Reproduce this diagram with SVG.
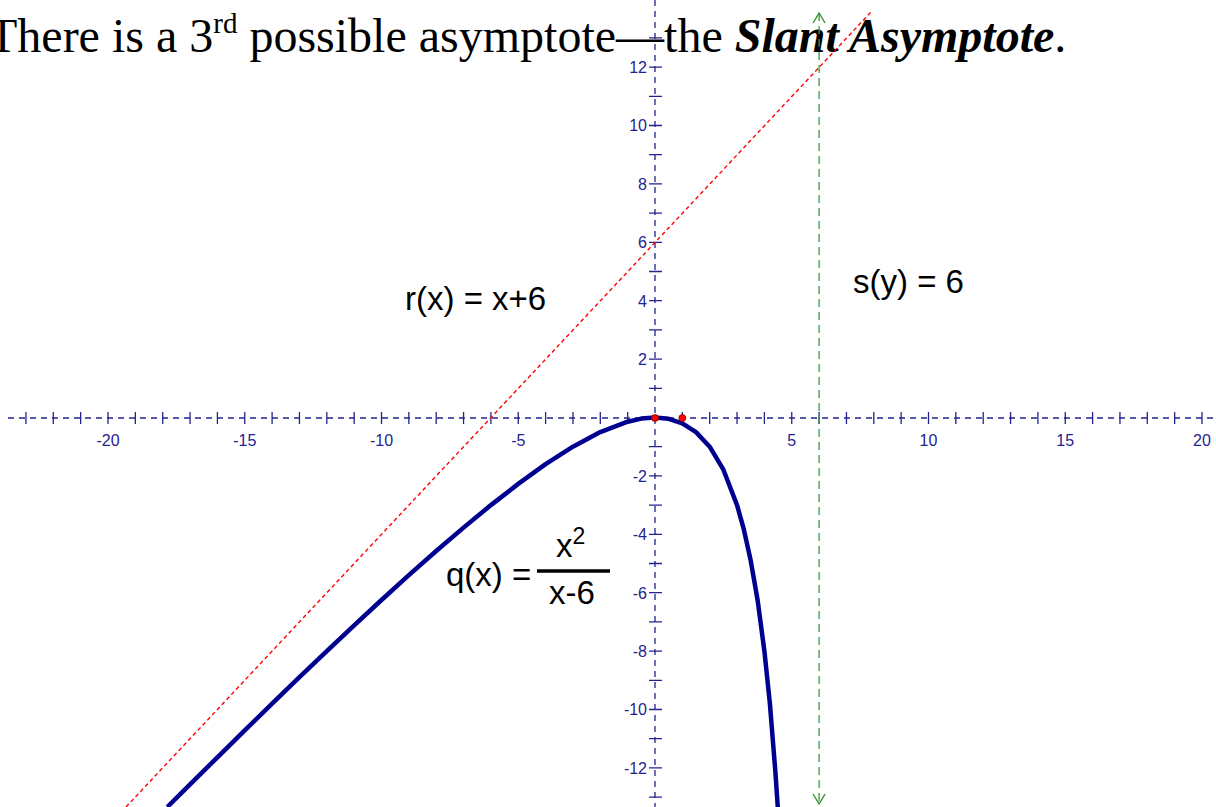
<svg xmlns="http://www.w3.org/2000/svg" width="1216" height="807" viewBox="0 0 1216 807">
<style>
.ax{stroke:#23238f;stroke-width:1.3;fill:none}
.axd{stroke:#23238f;stroke-width:1.3;fill:none;stroke-dasharray:6 5}
.lbl{font-family:"Liberation Sans",Arial,sans-serif;font-size:16px;fill:#23238f}
.xl{text-anchor:middle}
.yl{text-anchor:end}
.eq{font-family:"Liberation Sans",Arial,sans-serif;font-size:33px;fill:#000}
</style>
<defs>
<marker id="arr" viewBox="0 0 12 14" refX="11" refY="7" markerWidth="12" markerHeight="14" orient="auto-start-reverse" markerUnits="userSpaceOnUse">
<path d="M1,1 L11,7 L1,13" fill="none" stroke="#2a8f2a" stroke-width="1.3"/>
</marker>
</defs>
<rect width="1216" height="807" fill="#fff"/>
<g id="title">
<text x="-12" y="52" font-family="'Liberation Serif','Times New Roman',serif" font-size="48" fill="#000">There is a 3<tspan font-size="29" dy="-19">rd</tspan><tspan dy="19"> possible asymptote—the </tspan><tspan font-weight="bold" font-style="italic">Slant Asymptote</tspan>.</text>
</g>
<g id="axes">
<line class="axd" x1="8" y1="418" x2="1216" y2="418"/>
<line class="axd" x1="655" y1="0" x2="655" y2="807"/>
<path class="ax" d="M25.95,412v12M53.3,412v12M80.65,412v12M108,412v12M135.35,412v12M162.7,412v12M190.05,412v12M217.4,412v12M244.75,412v12M272.1,412v12M299.45,412v12M326.8,412v12M354.15,412v12M381.5,412v12M408.85,412v12M436.2,412v12M463.55,412v12M490.9,412v12M518.25,412v12M545.6,412v12M572.95,412v12M600.3,412v12M627.65,412v12M682.35,412v12M709.7,412v12M737.05,412v12M764.4,412v12M791.75,412v12M819.1,412v12M846.45,412v12M873.8,412v12M901.15,412v12M928.5,412v12M955.85,412v12M983.2,412v12M1010.55,412v12M1037.9,412v12M1065.25,412v12M1092.6,412v12M1119.95,412v12M1147.3,412v12M1174.65,412v12M1202,412v12"/>
<path class="ax" d="M649,37.9h13M649,67.1h13M649,96.3h13M649,125.5h13M649,154.7h13M649,183.9h13M649,213.1h13M649,242.3h13M649,271.5h13M649,300.7h13M649,329.9h13M649,359.1h13M649,388.3h13M649,446.7h13M649,475.9h13M649,505.1h13M649,534.3h13M649,563.5h13M649,592.7h13M649,621.9h13M649,651.1h13M649,680.3h13M649,709.5h13M649,738.7h13M649,767.9h13M649,797.1h13"/>
<g class="lbl xl">
<text x="108" y="446">-20</text>
<text x="244.75" y="446">-15</text>
<text x="381.5" y="446">-10</text>
<text x="518.25" y="446">-5</text>
<text x="791.75" y="446">5</text>
<text x="928.5" y="446">10</text>
<text x="1065.25" y="446">15</text>
<text x="1202" y="446">20</text>
</g>
<g class="lbl yl">
<text x="647" y="73">12</text>
<text x="647" y="131.4">10</text>
<text x="647" y="189.8">8</text>
<text x="647" y="248.2">6</text>
<text x="647" y="306.6">4</text>
<text x="647" y="365">2</text>
<text x="647" y="481.8">-2</text>
<text x="647" y="540.2">-4</text>
<text x="647" y="598.6">-6</text>
<text x="647" y="657">-8</text>
<text x="647" y="715.4">-10</text>
<text x="647" y="773.8">-12</text>
</g>
</g>
<g id="connectors">
<line id="slant" x1="126" y1="807" x2="871" y2="12" stroke="#ff0000" stroke-width="1.4" stroke-dasharray="4 3"/>
<line id="vertical" x1="819.1" y1="13" x2="819.1" y2="804" stroke="#3a9a3a" stroke-width="1.3" stroke-dasharray="8 5" marker-start="url(#arr)" marker-end="url(#arr)"/>
<polyline id="curve" fill="none" stroke="#000090" stroke-width="4.5" stroke-linejoin="round" points="167.3,807 190.05,784.4 217.4,757.3 244.75,730.4 272.1,703.7 299.45,677.2 326.8,651.1 354.15,625.3 381.5,600 408.85,575.2 436.2,551 463.55,527.6 490.9,505.1 518.25,483.9 545.6,464.2 572.95,446.7 600.3,432.1 627.65,421.7 641.3,418.6 655,417.5 668.7,418.8 682.35,423.3 696,432.1 709.7,446.7 723.4,469.7 737.05,505.1 743.9,529.7 750.7,560.6 757.6,600 764.4,651.1 769.9,703.7 775.3,770.8 777.8,807.4"/>
</g>
<g id="points">
<circle cx="655" cy="418" r="3.5" fill="#ff0000" stroke="#800000" stroke-width="0.8"/>
<circle cx="682.35" cy="418" r="3.5" fill="#ff0000" stroke="#800000" stroke-width="0.8"/>
</g>
<g id="label-r"><text class="eq" x="405" y="310">r(x) = x+6</text></g>
<g id="label-s"><text class="eq" x="853" y="293">s(y) = 6</text></g>
<g id="label-q">
<text class="eq" x="446" y="586">q(x) =</text>
<line x1="537" y1="571" x2="610" y2="571" stroke="#000" stroke-width="3.5"/>
<text class="eq" x="556" y="557">x<tspan font-size="23" dy="-13">2</tspan></text>
<text class="eq" x="549" y="604">x-6</text>
</g>
</svg>
